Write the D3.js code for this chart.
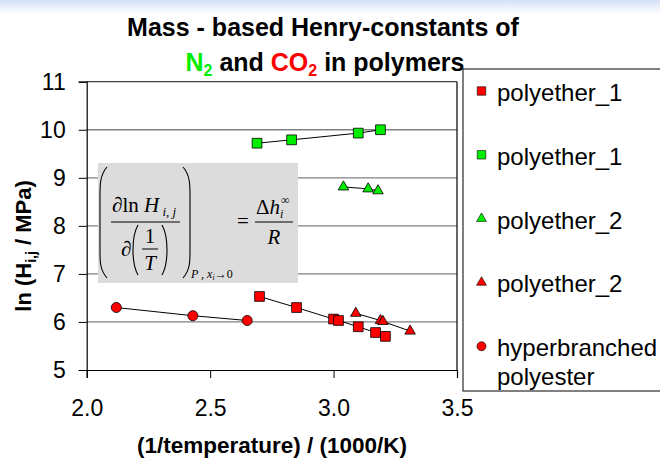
<!DOCTYPE html>
<html>
<head>
<meta charset="utf-8">
<title>Mass-based Henry constants</title>
<script src="https://cdn.jsdelivr.net/npm/d3@7"></script>
<style>
  body { margin: 0; background: #fff; }
  svg { display: block; font-family: Arial, "Liberation Sans", sans-serif; }
</style>
</head>
<body>
<div id="chart"></div>
<script>
// data
var xTicks = [2.0, 2.5, 3.0, 3.5];
var yTicks = [5, 6, 7, 8, 9, 10, 11];

var n2Poly1X = [2.69, 2.83, 3.10, 3.19];
var n2Poly1Y = [9.72, 9.79, 9.93, 10.0];
var n2Poly2X = [3.04, 3.14, 3.18];
var n2Poly2Y = [8.81, 8.77, 8.73];
var co2Poly1X = [2.70, 2.85, 3.00, 3.02, 3.10, 3.17, 3.21];
var co2Poly1Y = [6.53, 6.30, 6.06, 6.03, 5.90, 5.78, 5.70];
var co2Poly2X = [3.09, 3.19, 3.20, 3.31];
var co2Poly2Y = [6.18, 6.03, 6.01, 5.81];
var co2HbpX = [2.12, 2.43, 2.65];
var co2HbpY = [6.30, 6.13, 6.03];

var legendNames = ["polyether_1", "polyether_1", "polyether_2", "polyether_2", "hyperbranched polyester"];

function render() {
  var RED = "#ff0000", GREEN = "#00ee00";

  var series = [
    { xs: co2Poly1X, ys: co2Poly1Y, color: RED, shape: "square", name: legendNames[0] },
    { xs: n2Poly1X, ys: n2Poly1Y, color: GREEN, shape: "square", name: legendNames[1] },
    { xs: n2Poly2X, ys: n2Poly2Y, color: GREEN, shape: "triangle", name: legendNames[2] },
    { xs: co2Poly2X, ys: co2Poly2Y, color: RED, shape: "triangle", name: legendNames[3] },
    { xs: co2HbpX, ys: co2HbpY, color: RED, shape: "circle", name: legendNames[4] }
  ];

  var width = 660, height = 460;
  var pLeft = 86.7, pRight = 457, pTop = 81.7, pBottom = 370;

  var svg = d3.select("#chart").append("svg")
    .attr("width", width).attr("height", height);

  // faint blue band at the top of the slide
  var grad = svg.append("defs").append("linearGradient")
    .attr("id", "topband").attr("x1", 0).attr("y1", 0).attr("x2", 0).attr("y2", 1);
  grad.append("stop").attr("offset", "0%").attr("stop-color", "#d4e0f6");
  grad.append("stop").attr("offset", "100%").attr("stop-color", "#ffffff");
  svg.append("rect").attr("width", width).attr("height", 14).attr("fill", "url(#topband)");

  var x = d3.scaleLinear().domain([2.0, 3.5]).range([pLeft, pRight]);
  var y = d3.scaleLinear().domain([5, 11]).range([pBottom, pTop]);

  // gridlines
  svg.append("g").selectAll("line")
    .data(yTicks.filter(function(d) { return d > 5 && d < 11; }))
    .enter().append("line")
    .attr("x1", pLeft).attr("x2", pRight)
    .attr("y1", function(d) { return y(d); }).attr("y2", function(d) { return y(d); })
    .attr("stroke", "#808080").attr("stroke-width", 1.3);

  // frame
  svg.append("line").attr("x1", pLeft).attr("x2", pRight).attr("y1", pTop).attr("y2", pTop)
    .attr("stroke", "#404040").attr("stroke-width", 1.2);
  svg.append("line").attr("x1", pRight).attr("x2", pRight).attr("y1", pTop).attr("y2", pBottom)
    .attr("stroke", "#000").attr("stroke-width", 1.2);

  // axes
  var xAxis = svg.append("g").attr("transform", "translate(0," + pBottom + ")")
    .call(d3.axisBottom(x).tickValues(xTicks).tickFormat(d3.format(".1f")).tickSize(8).tickPadding(22));
  var yAxis = svg.append("g").attr("transform", "translate(" + pLeft + ",0)")
    .call(d3.axisLeft(y).tickValues(yTicks).tickFormat(d3.format("d")).tickSize(8).tickPadding(13));

  [xAxis, yAxis].forEach(function(g) {
    g.select(".domain").attr("stroke", "#000").attr("stroke-width", 1.2);
    g.selectAll(".tick line").attr("stroke", "#000").attr("stroke-width", 1);
    g.selectAll("text").attr("font-size", 23).attr("fill", "#000")
      .attr("font-family", "Arial, 'Liberation Sans', sans-serif");
  });
  xAxis.selectAll("text").attr("dy", "0.71em");

  // formula box
  var fx = svg.append("g").attr("font-family", "'Times New Roman', 'Liberation Serif', serif");
  fx.append("rect").attr("x", 98).attr("y", 163).attr("width", 200).attr("height", 120).attr("fill", "#dcdcdc");
  var parens = [
    "M107,167 C100,175 100,185 100,195 L100,250 C100,262 100,270 107,278",
    "M183,167 C190,175 190,185 190,195 L190,250 C190,262 190,270 183,278",
    "M138,225 C134,232 133,240 133,250 C133,260 134,268 138,275",
    "M162,225 C166,232 167,240 167,250 C167,260 166,268 162,275"
  ];
  fx.selectAll("path.paren").data(parens).enter().append("path")
    .attr("class", "paren").attr("d", function(d) { return d; })
    .attr("fill", "none").attr("stroke", "#000").attr("stroke-width", 1.1);
  var num = fx.append("text").attr("x", 112).attr("y", 212).attr("font-size", 21);
  num.append("tspan").text("\u2202ln ");
  num.append("tspan").attr("font-style", "italic").text("H");
  num.append("tspan").attr("font-style", "italic").attr("font-size", 13).attr("dy", 4).text(" i, j");
  fx.append("line").attr("x1", 111).attr("x2", 180).attr("y1", 222).attr("y2", 222).attr("stroke", "#000");
  fx.append("text").attr("x", 121).attr("y", 256).attr("font-size", 21).text("\u2202");
  fx.append("text").attr("x", 150).attr("y", 243).attr("font-size", 21).attr("text-anchor", "middle").text("1");
  fx.append("line").attr("x1", 142).attr("x2", 158).attr("y1", 249).attr("y2", 249).attr("stroke", "#000");
  fx.append("text").attr("x", 150).attr("y", 270).attr("font-size", 21).attr("text-anchor", "middle")
    .attr("font-style", "italic").text("T");
  var sub = fx.append("text").attr("x", 191).attr("y", 278).attr("font-size", 12).attr("font-style", "italic");
  sub.append("tspan").text("P , x");
  sub.append("tspan").attr("font-size", 8).attr("dy", 2).text("i");
  sub.append("tspan").attr("dy", -2).attr("font-style", "normal").text("\u21920");
  fx.append("text").attr("x", 243).attr("y", 228).attr("font-size", 21).attr("text-anchor", "middle").text("=");
  var dh = fx.append("text").attr("x", 256).attr("y", 214).attr("font-size", 21);
  dh.append("tspan").text("\u0394");
  dh.append("tspan").attr("font-style", "italic").text("h");
  dh.append("tspan").attr("font-style", "italic").attr("font-size", 12).attr("dy", 4).text("i");
  fx.append("text").attr("x", 281).attr("y", 204).attr("font-size", 12).text("\u221e");
  fx.append("line").attr("x1", 255).attr("x2", 293).attr("y1", 222).attr("y2", 222).attr("stroke", "#000");
  fx.append("text").attr("x", 274).attr("y", 244).attr("font-size", 21).attr("text-anchor", "middle")
    .attr("font-style", "italic").text("R");

  // data lines and markers
  var symbolType = { square: d3.symbolSquare, triangle: d3.symbolTriangle, circle: d3.symbolCircle };
  var symbolSize = { square: 95, triangle: 48, circle: 80 };
  var line = d3.line().x(function(d) { return x(d[0]); }).y(function(d) { return y(d[1]); });

  series.forEach(function(s) {
    var pts = s.xs.map(function(v, i) { return [v, s.ys[i]]; });
    svg.append("path").datum(pts).attr("d", line)
      .attr("fill", "none").attr("stroke", "#000").attr("stroke-width", 1);
    svg.append("g").selectAll("path").data(pts).enter().append("path")
      .attr("transform", function(d) { return "translate(" + x(d[0]) + "," + y(d[1]) + ")"; })
      .attr("d", d3.symbol().type(symbolType[s.shape]).size(symbolSize[s.shape]))
      .attr("fill", s.color).attr("stroke", "#000").attr("stroke-width", 0.8);
  });

  // legend
  var lg = svg.append("g");
  lg.append("rect").attr("x", 463).attr("y", 69).attr("width", 260).attr("height", 322)
    .attr("fill", "#fff").attr("stroke", "#000").attr("stroke-width", 1);
  var legendSize = { square: 72, triangle: 42, circle: 64 };
  var items = lg.selectAll("g.item").data(series).enter().append("g")
    .attr("class", "item")
    .attr("transform", function(d, i) { return "translate(0," + (91 + i * 63.8) + ")"; });
  items.append("path")
    .attr("transform", "translate(481.5,0)")
    .attr("d", function(d) { return d3.symbol().type(symbolType[d.shape]).size(legendSize[d.shape])(); })
    .attr("fill", function(d) { return d.color; }).attr("stroke", "#000").attr("stroke-width", 0.6);
  items.each(function(d) {
    var t = d3.select(this).append("text").attr("x", 497).attr("y", 10).attr("font-size", 24).attr("fill", "#000");
    var words = d.name.split(" ");
    if (words.length > 1) {
      t.append("tspan").attr("x", 497).attr("y", 10).text(words[0]);
      t.append("tspan").attr("x", 497).attr("y", 39).text(words[1]);
    } else {
      t.text(d.name);
    }
  });

  // titles
  svg.append("text").attr("x", 323).attr("y", 36).attr("text-anchor", "middle")
    .attr("font-size", 25).attr("font-weight", "bold").text("Mass - based Henry-constants of");
  var t2 = svg.append("text").attr("x", 325).attr("y", 71).attr("text-anchor", "middle")
    .attr("font-size", 25).attr("font-weight", "bold");
  t2.append("tspan").attr("fill", GREEN).text("N");
  t2.append("tspan").attr("fill", GREEN).attr("font-size", 16).attr("dy", 5).text("2");
  t2.append("tspan").attr("dy", -5).text(" and ");
  t2.append("tspan").attr("fill", RED).text("CO");
  t2.append("tspan").attr("fill", RED).attr("font-size", 16).attr("dy", 5).text("2");
  t2.append("tspan").attr("dy", -5).text(" in polymers");

  svg.append("text").attr("x", 272).attr("y", 453).attr("text-anchor", "middle")
    .attr("font-size", 22.5).attr("font-weight", "bold").text("(1/temperature) / (1000/K)");

  var yt = svg.append("text").attr("transform", "translate(31,246) rotate(-90)")
    .attr("text-anchor", "middle").attr("font-size", 22).attr("font-weight", "bold");
  yt.append("tspan").text("ln (H");
  yt.append("tspan").attr("font-size", 14).attr("dy", 5).text("i,j");
  yt.append("tspan").attr("dy", -5).text(" / MPa)");
}
render();
</script>
</body>
</html>
